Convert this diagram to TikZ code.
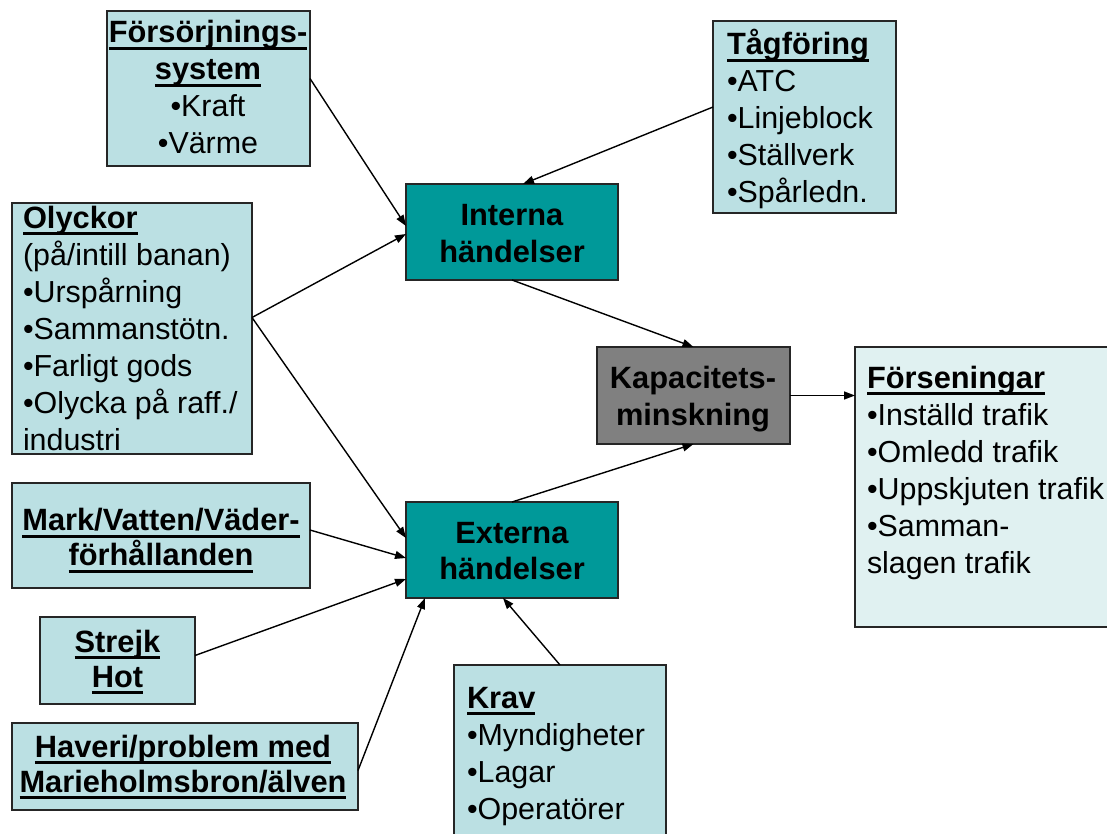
\documentclass[tikz,border=0pt]{standalone}
\usepackage{fontspec}
\setmainfont{Liberation Sans}
\usetikzlibrary{arrows.meta,calc}
\definecolor{lb}{RGB}{187,224,227}
\definecolor{vlb}{RGB}{224,241,241}
\definecolor{tealbox}{RGB}{0,153,153}
\definecolor{graybox}{RGB}{128,128,128}
\newcommand\ulx[1]{\setbox0\hbox{#1}\rlap{\rule[-7pt]{\wd0}{2.6pt}}\box0}
\newcommand\fst{\rule{0pt}{30pt}}
\newcommand\bx[1]{{\fontsize{30.8}{37}\selectfont\textbf{#1}}}
\begin{document}
\begin{tikzpicture}[x=1pt,y=-1pt,
  box/.style={draw=black!85,line width=1.4pt,inner sep=0pt,outer sep=0pt,anchor=north west},
  lbox/.style={box,fill=lb},
  txt/.style={inner sep=0pt,outer sep=0pt,font=\fontsize{30.4}{37}\selectfont},
  txtb/.style={txt,font=\fontsize{30.4}{35}\selectfont},
  arr/.style={line width=1.4pt,-{Triangle[length=11pt,width=8pt]}}]
\useasboundingbox (0,0) rectangle (1107,834);
\clip (0,0) rectangle (1107,834);
% boxes
\node[lbox,minimum width=203,minimum height=155] (fs) at (107,11) {};
\node[lbox,minimum width=183,minimum height=192] (tag) at (713,21) {};
\node[lbox,minimum width=240,minimum height=251] (ol) at (12,203) {};
\node[box,fill=tealbox,minimum width=212,minimum height=96] (int) at (406,184) {};
\node[box,fill=graybox,minimum width=193,minimum height=97] (kap) at (597,347) {};
\node[box,fill=vlb,minimum width=270,minimum height=280] (fors) at (855,347) {};
\node[lbox,minimum width=298,minimum height=105] (mark) at (12,483) {};
\node[box,fill=tealbox,minimum width=212,minimum height=96] (ext) at (406,502) {};
\node[lbox,minimum width=155,minimum height=87] (str) at (40,617) {};
\node[lbox,minimum width=346,minimum height=87] (hav) at (12,723) {};
\node[lbox,minimum width=212,minimum height=200] (krav) at (454,665) {};
% texts
\node[txt,align=center,anchor=north] (fsT) at (208,13)
  {\fst\ulx{\bx{Försörjnings-}}\\\ulx{\bx{system}}\\•Kraft\\•Värme};
\node[txt,align=left,anchor=north west] (tagT) at (727,25)
  {\fst\ulx{\bx{Tågföring}}\\•ATC\\•Linjeblock\\•Ställverk\\•Spårledn.};
\node[txt,align=left,anchor=north west] (olT) at (23,198)
  {\fst\ulx{\bx{Olyckor}}\\(på/intill banan)\\•Urspårning\\•Sammanstötn.\\•Farligt gods\\•Olycka på raff./\\industri};
\node[txt,align=center,anchor=north] (intT) at (512,195)
  {\fst\bx{Interna}\\\bx{händelser}};
\node[txt,align=center,anchor=north] (kapT) at (693,358)
  {\fst\bx{Kapacitets-}\\\bx{minskning}};
\node[txt,align=left,anchor=north west] (forsT) at (867,358)
  {\fst\ulx{\bx{Förseningar}}\\•Inställd trafik\\•Omledd trafik\\•Uppskjuten trafik\\•Samman-\\slagen trafik};
\node[txtb,align=center,anchor=north] (markT) at (161,500.5)
  {\fst\ulx{\bx{Mark/Vatten/Väder-}}\\\ulx{\bx{förhållanden}}};
\node[txt,align=center,anchor=north,font=\fontsize{30.4}{36}\selectfont] (extT) at (512,513)
  {\fst\bx{Externa}\\\bx{händelser}};
\node[txtb,align=center,anchor=north] (strT) at (117.5,622)
  {\fst\ulx{\bx{Strejk}}\\\ulx{\bx{Hot}}};
\node[txtb,align=center,anchor=north] (havT) at (183,727)
  {\fst\ulx{\bx{Haveri/problem med}}\\\ulx{\bx{Marieholmsbron/älven}}};
\node[txt,align=left,anchor=north west] (kravT) at (467,678)
  {\fst\ulx{\bx{Krav}}\\•Myndigheter\\•Lagar\\•Operatörer};
% connectors
\draw[arr] ([yshift=10pt]fs.east) -- ([yshift=6pt]int.west);
\draw[arr] ([yshift=11pt]ol.east) -- ([yshift=-2pt]int.west);
\draw[arr] ([yshift=11pt]ol.east) -- ([yshift=12pt]ext.west);
\draw[arr] ([yshift=10pt]tag.west) -- ([xshift=11pt]int.north);
\draw[arr] (int.south) -- (kap.north);
\draw[arr] (ext.north) -- (kap.south);
\draw[arr] (kap.east) -- (kap.east -| fors.west);
\draw[arr] ([yshift=5.5pt]mark.east) -- ([yshift=-8pt]ext.west);
\draw[arr] ([yshift=5pt]str.east) -- ([yshift=-29pt]ext.west);
\draw[arr] ([yshift=-4pt]hav.east) -- ([xshift=19pt]ext.south west);
\draw[arr] (krav.north) -- ([xshift=-9pt]ext.south);
\end{tikzpicture}
\end{document}
